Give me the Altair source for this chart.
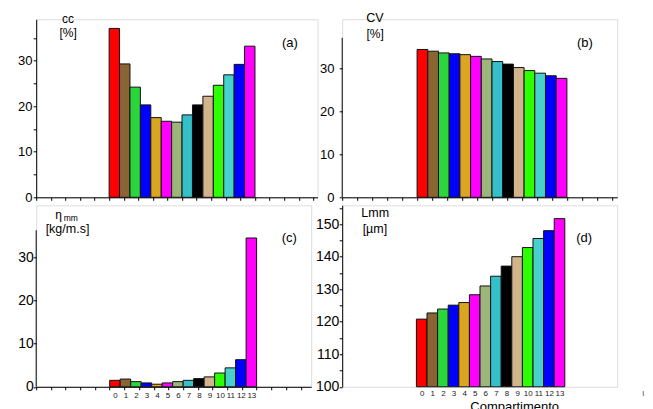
import altair as alt
import pandas as pd

FONT = "Liberation Sans"

compartment = list(range(14))
cc_values = [37.1, 29.3, 24.2, 20.3, 17.5, 16.7, 16.5, 18.1, 20.3, 22.2, 24.6, 26.9, 29.2, 33.2]
cv_values = [34.3, 33.9, 33.5, 33.3, 33.1, 32.7, 32.1, 31.5, 30.9, 30.1, 29.4, 28.8, 28.2, 27.6]
eta_values = [1.5, 1.8, 1.2, 0.9, 0.6, 0.9, 1.2, 1.5, 1.9, 2.3, 3.2, 4.4, 6.3, 34.6]
lmm_values = [120.8, 122.7, 123.9, 125.1, 125.9, 128.3, 131.0, 134.0, 137.1, 140.0, 142.8, 145.6, 148.0, 151.7]
bar_colors = ["#ff0000", "#8b6434", "#2ad63c", "#0000ff", "#daa520", "#ff00ff", "#9db57a",
              "#35bfc9", "#000000", "#d2b48c", "#2eff00", "#47d1cd", "#0000ff", "#ff00ff"]

# axis tick positions (no labels) along the compartment axis
x_ticks = [-7.5, -6.1, -4.7, -3.3, -1.9, -0.5, 0.9, 2.3, 3.7, 5.1, 6.5, 7.9,
           9.3, 10.7, 12.1, 13.5, 14.9, 16.3, 17.7, 19.1]
y_ticks_pct = [0, 5, 10, 15, 20, 25, 30, 35]
y_ticks_lmm = [100, 105, 110, 115, 120, 125, 130, 135, 140, 145, 150, 155]

df = pd.DataFrame({
    "comp": compartment,
    "cc": cc_values,
    "cv": cv_values,
    "eta": eta_values,
    "lmm": lmm_values,
    "color": bar_colors,
})

LABEL10 = "datum.value % 10 == 0 ? datum.label : ''"
INT_TEST = "datum.value == floor(datum.value)"


def y_axis(size, pad, domain=True, values=y_ticks_pct):
    return alt.Axis(values=values, labelExpr=LABEL10, tickSize=3, tickColor="black",
                    domain=domain, domainColor="black", labelFont=FONT, labelFontSize=size,
                    labelColor="black", labelPadding=pad, grid=False, title=None,
                    labelOverlap=False, labelFlush=False)


def x_axis_ticks():
    return alt.Axis(values=x_ticks, labels=False, tickSize=3, tickColor="black",
                    domainColor="black", grid=False, title=None)


def x_axis_ticks_labels():
    return alt.Axis(values=x_ticks + compartment,
                    labelExpr=INT_TEST + " ? datum.label : ''",
                    tickOpacity={"condition": {"test": INT_TEST, "value": 0}, "value": 1},
                    tickSize=3, tickColor="black", domainColor="black", grid=False, title=None,
                    labelFont=FONT, labelFontSize=8, labelColor="#222", labelPadding=1.3,
                    labelOverlap=False, labelFlush=False)


def x_axis_labels_title():
    return alt.Axis(values=compartment, ticks=False, tickSize=0, domain=False, grid=False,
                    labelFont=FONT, labelFontSize=8, labelColor="#222", labelPadding=2.6,
                    labelOverlap=False, labelFlush=False,
                    title="Compartimento", titleFont=FONT, titleFontSize=13,
                    titleFontWeight="normal", titleColor="black", titleX=172, titleY=13.5,
                    titleAlign="center", titleBaseline="top")


def text(t, x, y, size=13, color="black"):
    return alt.Chart(pd.DataFrame({"a": [0]})).mark_text(
        text=t, font=FONT, fontSize=size, color=color, align="center", baseline="middle"
    ).encode(x=alt.value(x), y=alt.value(y))


def bars(field, xdomain, ydomain, xaxis, yaxis):
    return alt.Chart(df).transform_calculate(
        lo="datum.comp - 0.5", hi="datum.comp + 0.5", base=str(ydomain[0])
    ).mark_bar(stroke="#111", strokeWidth=1).encode(
        x=alt.X("lo:Q", scale=alt.Scale(domain=xdomain, nice=False, zero=False), axis=xaxis),
        x2="hi:Q",
        y=alt.Y(f"{field}:Q", scale=alt.Scale(domain=ydomain, nice=False, zero=False, clamp=True),
                axis=yaxis),
        y2="base:Q",
        color=alt.Color("color:N", scale=None),
    )


def axis_line(top):
    return alt.Chart(pd.DataFrame({"lo": [0], "hi": [top]})).mark_rule(
        color="black", strokeWidth=1
    ).encode(x=alt.value(0), y="lo:Q", y2="hi:Q")


H1 = 178
H2 = 181.5

panel_a = alt.layer(
    bars("cc", [-7.5, 19.5], [0, 39.1], x_axis_ticks(), y_axis(13, 1.3)),
    text("cc", 31.7, -0.5, size=12),
    text("[%]", 32, 13.5, size=12),
    text("(a)", 253.7, 23.7),
).properties(width=281.3, height=H1)

panel_b = alt.layer(
    bars("cv", [-7.5, 18.2], [0, 41.3], x_axis_ticks(), y_axis(13, 5.3, domain=False)),
    axis_line(37),
    text("CV", 32.7, -1, size=12.5),
    text("[%]", 33, 14.7, size=12),
    text("(b)", 242.7, 23.7),
).properties(width=275, height=H1)

panel_c = alt.layer(
    bars("eta", [-7.5, 18.7], [0, 42.2], x_axis_ticks_labels(), y_axis(14, 0, domain=False)),
    axis_line(36.4),
    text("η", 22.5, 10, size=12),
    text("mm", 34.5, 12.5, size=8.5),
    text("[kg/m.s]", 31.3, 23.7, size=12.5),
    text("(c)", 253, 32.7),
).properties(width=275, height=H2)

panel_d = alt.layer(
    bars("lmm", [-7.5, 18.44], [100, 155.8], x_axis_labels_title(),
         y_axis(14, 0.3, values=y_ticks_lmm)),
    text("Lmm", 33, 8.2, size=12.5),
    text("[µm]", 32.7, 23.7, size=12.5),
    text("(d)", 242, 32.7),
    text("ι", 301, 187.7, size=9, color="#555"),
).properties(width=275, height=H2)

chart = alt.concat(
    panel_a, panel_b, panel_c, panel_d, columns=2, spacing={"row": -6, "column": -4}
).properties(
    padding={"left": 16.2, "top": 11.3, "right": 0, "bottom": 0}
).configure_view(stroke=None).configure(background="white")

chart.save("out.html", embed_options={"renderer": "svg", "actions": False})
